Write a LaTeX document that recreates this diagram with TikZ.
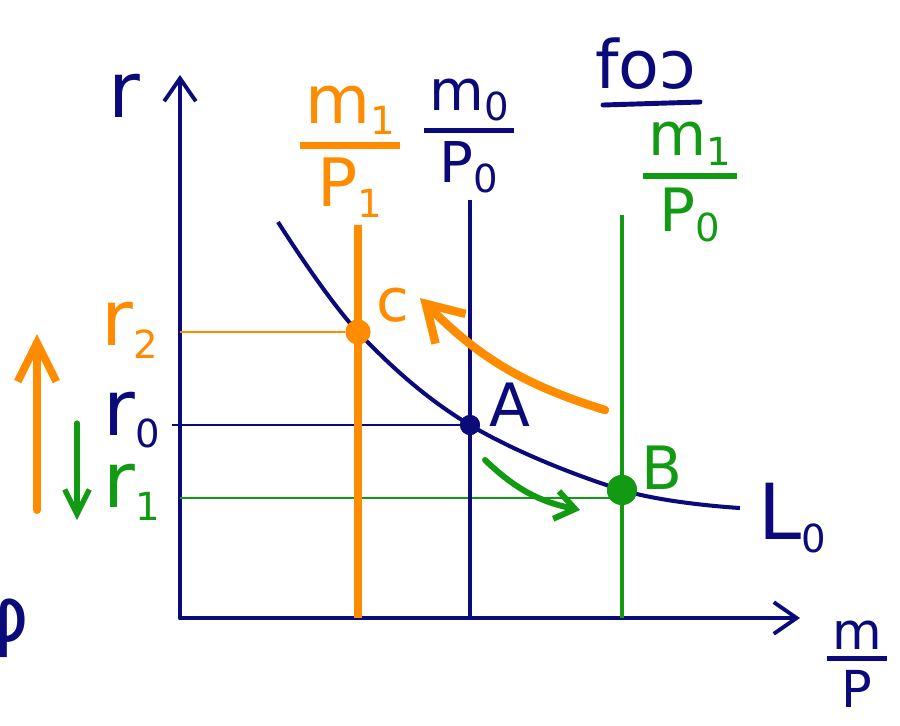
\documentclass[tikz,border=0pt]{standalone}
\usepackage{fontspec}
\setmainfont{DejaVu Sans}
\usetikzlibrary{arrows.meta,positioning}
\definecolor{navy}{HTML}{0A0A7A}
\definecolor{orng}{HTML}{FF8C00}
\definecolor{grn}{HTML}{129A12}
\newcommand{\lsub}[1]{\raisebox{-0.3ex}{\fontsize{22}{24}\selectfont #1}}
% stacked fraction with a bar of given thickness
\newcommand{\handfrac}[3]{\vbox{\offinterlineskip\halign{\hfil\kern3pt##\kern3pt\hfil\cr
  #2\cr\noalign{\kern4pt\hrule height #1\kern5pt}#3\cr}}}
\tikzset{
  axisline/.style={draw=navy,line width=2.2pt,line cap=round,
    -{Straight Barb[length=13pt,width=18pt]}},
  levelline/.style={line width=0.8pt},
  supply/.style={line cap=butt},
  moneycurve/.style={draw=navy,line width=2.3pt},
  dot/.style={circle,inner sep=0pt},
  shiftarr/.style={line width=4.8pt,line cap=round},
  lbl/.style={inner sep=0pt,font=\fontsize{44}{48}\selectfont},
  fraclbl/.style={inner sep=0pt,font=\fontsize{38}{40}\selectfont},
  ptlbl/.style={inner sep=0pt,font=\fontsize{34}{38}\selectfont},
}
\begin{document}
\begin{tikzpicture}[x=0.02cm,y=-0.02cm]
  \useasboundingbox (0,0) rectangle (900,725);

  % axes
  \coordinate (O) at (180,618);
  \coordinate (ytop) at (180,75);
  \coordinate (xend) at (800,618);
  \draw[axisline] (O) -- (ytop);
  \draw[axisline] (O) -- (xend);

  % equilibrium points
  \node[dot,fill=orng,minimum size=0.5cm] (C) at (358,332) {};
  \node[dot,fill=navy,minimum size=0.4cm] (A) at (470,425) {};
  \node[dot,fill=grn,minimum size=0.6cm] (B) at (622,490) {};

  % level lines to the r axis
  \coordinate (r2ax) at (180,332);
  \coordinate (r0ax) at (172,425);
  \coordinate (r1ax) at (180,498);
  \coordinate (r1end) at (622,498);
  \draw[levelline,orng] (r2ax) -- (C);
  \draw[levelline,navy] (r0ax) -- (A);
  \draw[levelline,grn] (r1ax) -- (r1end);

  % real money supply lines
  \coordinate (s1top) at (358,225);
  \coordinate (s1bot) at (358,618);
  \coordinate (s0top) at (470,200);
  \coordinate (s0bot) at (470,618);
  \coordinate (s2top) at (622,215);
  \coordinate (s2bot) at (622,618);
  \draw[supply,orng,line width=5pt] (s1top) -- (s1bot);
  \draw[supply,navy,line width=2.3pt] (s0top) -- (s0bot);
  \draw[supply,grn,line width=2.8pt] (s2top) -- (s2bot);

  % money demand
  \draw[moneycurve] plot[smooth,tension=0.6] coordinates
    {(278,222) (C) (A) (B) (740,508)};
  \fill[orng] (C) circle (0.25cm);
  \fill[navy] (A) circle (0.2cm);
  \fill[grn] (B) circle (0.3cm);

  % shifts along the curve
  \coordinate (oa1) at (605,410);
  \coordinate (oa2) at (420,298);
  \coordinate (ga1) at (485,460);
  \coordinate (ga2) at (580,510);
  \draw[shiftarr,orng,-{Straight Barb[length=20pt,width=24pt]}] (oa1) to[bend left=14] (oa2);
  \draw[shiftarr,grn,line width=3.4pt,-{Straight Barb[length=11pt,width=16pt]}] (ga1) to[bend right=16] (ga2);

  % rate moves
  \coordinate (up1) at (37,510);
  \coordinate (up2) at (37,334);
  \coordinate (dn1) at (77,423);
  \coordinate (dn2) at (77,520);
  \draw[shiftarr,orng,line width=4.5pt,-{Straight Barb[length=22pt,width=22pt]}] (up1) -- (up2);
  \draw[shiftarr,grn,line width=3pt,-{Straight Barb[length=14pt,width=14pt]}] (dn1) -- (dn2);

  % labels
  \node[lbl,navy] (rlab) at (124,96) {r};
  \node[lbl,orng] (r2lab) at (130,330) {r\lsub{2}};
  \node[lbl,navy] (r0lab) at (132,420) {r\lsub{0}};
  \node[lbl,grn] (r1lab) at (132,492) {r\lsub{1}};
  \node[fraclbl,orng] (s1lab) at (350,152) {\handfrac{4.5pt}{m\lsub{1}}{P\lsub{1}}};
  \node[fraclbl,navy,font=\fontsize{32}{34}\selectfont] (s0lab) at (469,136) {\handfrac{3pt}{m\lsub{0}}{P\lsub{0}}};
  \node[fraclbl,grn,font=\fontsize{34}{36}\selectfont] (s2lab) at (690,182) {\handfrac{3.5pt}{m\lsub{1}}{P\lsub{0}}};
  \node[lbl,navy,font=\fontsize{38}{40}\selectfont] (foolab) at (646,64) {foɔ};
  \coordinate (ul1) at (603,105);
  \coordinate (ul2) at (700,102);
  \draw[navy,line width=2.8pt,line cap=round] (ul1) -- (ul2);
  \node[ptlbl,orng] (Clab) at (393,305) {c};
  \node[ptlbl,navy] (Alab) at (510,405) {A};
  \node[ptlbl,grn] (Blab) at (662,468) {B};
  \node[lbl,navy] (Llab) at (792,518) {L\lsub{0}};
  \node[fraclbl,navy,font=\fontsize{29}{31}\selectfont] (xlab) at (857,664) {\handfrac{3pt}{m}{P}};
  \node[lbl,navy] (cutlab) at (4,628) {φ};
\end{tikzpicture}
\end{document}
